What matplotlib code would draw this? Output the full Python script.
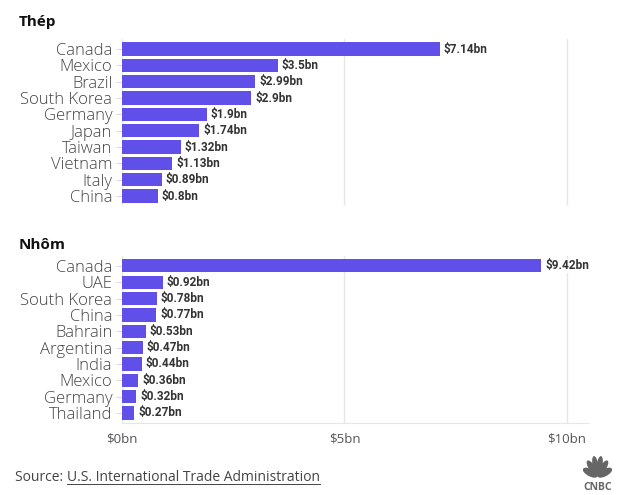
import math
import matplotlib.pyplot as plt
from matplotlib.lines import Line2D
from matplotlib.patches import Ellipse

# data
steel_countries = ["Canada", "Mexico", "Brazil", "South Korea", "Germany", "Japan",
                   "Taiwan", "Vietnam", "Italy", "China"]
steel_values = [7.14, 3.5, 2.99, 2.9, 1.9, 1.74, 1.32, 1.13, 0.89, 0.8]
steel_labels = ["$7.14bn", "$3.5bn", "$2.99bn", "$2.9bn", "$1.9bn", "$1.74bn",
                "$1.32bn", "$1.13bn", "$0.89bn", "$0.8bn"]

alu_countries = ["Canada", "UAE", "South Korea", "China", "Bahrain", "Argentina",
                 "India", "Mexico", "Germany", "Thailand"]
alu_values = [9.42, 0.92, 0.78, 0.77, 0.53, 0.47, 0.44, 0.36, 0.32, 0.27]
alu_labels = ["$9.42bn", "$0.92bn", "$0.78bn", "$0.77bn", "$0.53bn", "$0.47bn",
              "$0.44bn", "$0.36bn", "$0.32bn", "$0.27bn"]

x_ticks = [0, 5, 10]
x_ticklabels = ["$0bn", "$5bn", "$10bn"]

bar_color = "#604FE8"
grid_color = "#e6e6e6"

plt.rcParams['font.family'] = ['Open Sans', 'DejaVu Sans']

fig = plt.figure(figsize=(6.24, 4.95), dpi=100)
ax1 = fig.add_axes([0.1955, 0.5842, 0.7488, 0.3366])
ax2 = fig.add_axes([0.1955, 0.1459, 0.7488, 0.3366])


def draw_panel(ax, countries, values, labels, show_x):
    ax.barh(countries, values, height=0.8, color=bar_color, zorder=2)
    ax.set_xlim(0, 10.5)
    ax.set_ylim(len(countries) - 0.4, -0.6)
    ax.set_xticks(x_ticks)
    ax.grid(axis="x", color=grid_color, linewidth=1, zorder=0)
    for s in ["top", "right", "left", "bottom"]:
        ax.spines[s].set_visible(False)
    ax.tick_params(axis="y", length=4, color="#dddddd", pad=3,
                   labelsize=12, labelcolor="#444444")
    for t in ax.get_yticklabels():
        t.set_fontweight("light")
    for i, (v, lab) in enumerate(zip(values, labels)):
        ax.text(v + 0.09, i, lab, va="center", ha="left", fontsize=8.5,
                fontweight="bold", family="Roboto", color="#333333", zorder=3,
                bbox=dict(facecolor="white", edgecolor="none", pad=0.5))
    if show_x:
        ax.spines["bottom"].set_visible(True)
        ax.spines["bottom"].set_color(grid_color)
        ax.set_xticklabels(x_ticklabels)
        ax.tick_params(axis="x", length=0, pad=7, labelsize=9.5, labelcolor="#555555")
    else:
        ax.tick_params(axis="x", length=0, labelbottom=False)


draw_panel(ax1, steel_countries, steel_values, steel_labels, False)
draw_panel(ax2, alu_countries, alu_values, alu_labels, True)

fig.text(0.03, 0.955, "Thép", fontsize=11, fontweight="bold", color="#111111", va="center")
fig.text(0.03, 0.505, "Nhôm", fontsize=11, fontweight="bold", color="#111111", va="center")

src1 = fig.text(0.024, 0.036, "Source: ", fontsize=10, color="#444444", va="center")
fig.canvas.draw()
r = fig.canvas.get_renderer()
bb = src1.get_window_extent(r)
x2 = bb.x1 / fig.bbox.width
src2 = fig.text(x2, 0.036, "U.S. International Trade Administration", fontsize=10,
                color="#444444", va="center")
bb2 = src2.get_window_extent(r)
uy = (bb2.y0 + 1) / fig.bbox.height
fig.add_artist(Line2D([bb2.x0 / fig.bbox.width, bb2.x1 / fig.bbox.width], [uy, uy],
                      transform=fig.transFigure, color="#444444", linewidth=0.7))

# CNBC logo
lax = fig.add_axes([0.935, 0.034, 0.045, 0.05])
lax.set_xlim(-1, 1)
lax.set_ylim(-0.1, 1.2)
lax.axis("off")
for ang in [-70, -42, -14, 14, 42, 70]:
    cx = 0.55 * math.sin(math.radians(ang))
    cy = 0.55 * math.cos(math.radians(ang))
    lax.add_patch(Ellipse((cx, cy), 0.32, 1.0, angle=-ang, color="#666666"))
fig.text(0.958, 0.016, "CNBC", fontsize=7.5, fontweight="bold", color="#666666",
         ha="center", va="center")

fig.savefig("out.png", dpi=100, facecolor="white")
